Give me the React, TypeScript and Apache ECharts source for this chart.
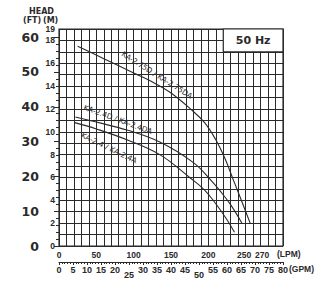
import React, { useEffect, useRef } from "react";
import * as echarts from "echarts";

const lpmLabels = [0, 50, 100, 150, 200, 250, 270];
const mLabels = [0, 2, 4, 6, 8, 10, 12, 14, 16, 18, 19];
const gpmLowLabels = [25, 50];

const ka275: [number, number][] = [
  [25, 17.5], [60, 16.4], [100, 15.15], [124, 14.4], [150, 13.4], [176, 12.0],
  [195, 10.8], [210, 9.3], [222, 7.7], [234, 5.7], [246, 3.7], [256, 2.0],
];
const ka24D: [number, number][] = [
  [22, 11.3], [50, 10.85], [91, 10.15], [135, 9.1], [180, 7.3], [203, 5.8],
  [216, 4.8], [230, 3.6], [245, 2.0],
];
const ka24: [number, number][] = [
  [21, 10.8], [50, 10.25], [91, 9.3], [135, 8.0], [175, 6.0], [195, 4.9],
  [210, 3.7], [225, 2.3], [235, 1.2],
];

const FONT = "DejaVu Sans";
const TICKFONT = "Liberation Sans";
const INK = "#2a2a2a";

export default function App() {
  const ref = useRef<HTMLDivElement>(null);
  useEffect(() => {
    document.body.style.margin = "0";
    const chart = echarts.init(ref.current!, null, { renderer: "svg" });
    const lineSeries = (name: string, data: [number, number][]) => ({
      name,
      type: "line",
      xAxisIndex: 0,
      yAxisIndex: 0,
      data,
      smooth: 0.4,
      showSymbol: false,
      symbol: "none",
      lineStyle: { color: INK, width: 1.1 },
      z: 3,
    });
    const tickRich = { fontSize: 8.5, fontFamily: TICKFONT, fontWeight: "bold", color: INK };
    chart.setOption({
      animation: false,
      backgroundColor: "#ffffff",
      textStyle: { fontFamily: FONT, color: INK },
      grid: [
        { left: 59, right: 39, top: 29, bottom: 58, show: true, borderColor: INK, borderWidth: 1.2, backgroundColor: "transparent" },
        { left: 59, right: 39, top: 37.14, bottom: 58, show: false },
      ],
      xAxis: [
        {
          gridIndex: 0, type: "value", min: 0, max: 300, interval: 10,
          axisLine: { show: false }, axisTick: { show: false },
          splitLine: { show: true, lineStyle: { color: INK, width: 1 } },
          axisLabel: {
            margin: 4, fontSize: 8.5, color: INK, fontFamily: TICKFONT, fontWeight: "bold",
            showMinLabel: true, showMaxLabel: false, hideOverlap: false,
            formatter: (v: number) => {
              if (!lpmLabels.includes(v)) return "";
              if (v === 250) return `{l|${v}}`;
              if (v === 270) return `{r|${v}}`;
              return String(v);
            },
            rich: {
              l: { ...tickRich, padding: [0, 3, 0, 0] },
              r: { ...tickRich, padding: [0, 0, 0, 3] },
            },
          },
        },
        {
          gridIndex: 0, type: "value", min: 0, max: 80, interval: 5, position: "bottom", offset: 16,
          axisLine: { show: true, lineStyle: { color: INK, width: 1 } },
          axisTick: { show: true, length: 3, inside: false, lineStyle: { color: INK } },
          minorTick: { show: true, splitNumber: 5, length: 2, lineStyle: { color: INK } },
          splitLine: { show: false },
          axisLabel: {
            margin: 3, fontSize: 9, color: INK, fontFamily: TICKFONT, fontWeight: "bold",
            showMinLabel: true, showMaxLabel: true,
            formatter: (v: number) => (gpmLowLabels.includes(v) ? `{low|${v}}` : String(v)),
            rich: { low: { fontSize: 9, fontFamily: TICKFONT, fontWeight: "bold", color: INK, padding: [5, 0, 0, 0] } },
          },
        },
        { gridIndex: 1, type: "value", min: 0, max: 300, show: false },
      ],
      yAxis: [
        {
          gridIndex: 0, type: "value", min: 0, max: 19, interval: 1,
          axisLine: { show: false }, axisTick: { show: false },
          splitLine: { show: true, lineStyle: { color: INK, width: 1 } },
          axisLabel: {
            margin: 4, fontSize: 8.5, color: INK, fontFamily: TICKFONT, fontWeight: "bold",
            showMinLabel: true, showMaxLabel: true,
            formatter: (v: number) => (mLabels.includes(v) ? String(v) : ""),
          },
        },
        {
          gridIndex: 1, type: "value", min: 0, max: 60, interval: 10, position: "left", offset: 17,
          axisLine: { show: true, lineStyle: { color: INK, width: 1 } },
          axisTick: { show: true, length: 5, lineStyle: { color: INK } },
          minorTick: { show: true, splitNumber: 5, length: 3, lineStyle: { color: INK } },
          splitLine: { show: false },
          axisLabel: { margin: 3, fontSize: 12.5, fontWeight: "bold", color: INK, fontFamily: FONT },
        },
      ],
      series: [
        {
          ...lineSeries("KA-2.75D / KA-2.75DA", ka275),
          markArea: {
            silent: true,
            itemStyle: { color: "#ffffff", borderColor: INK, borderWidth: 1.2 },
            label: { show: true, position: "inside", fontSize: 11, fontWeight: "bold", color: INK, fontFamily: FONT },
            data: [[{ name: "50 Hz", coord: [220, 19] }, { coord: [300, 17] }]],
          },
        },
        lineSeries("KA-2.4D / KA-2.4DA", ka24D),
        lineSeries("KA-2.4 / KA-2.4A", ka24),
      ],
      graphic: [
        { type: "text", left: 29, top: 7, style: { text: "HEAD", fontSize: 8, fontWeight: "bold", fill: INK, fontFamily: FONT } },
        { type: "text", left: 23, top: 16, style: { text: "(FT)", fontSize: 8, fontWeight: "bold", fill: INK, fontFamily: FONT } },
        { type: "text", left: 43, top: 16, style: { text: "(M)", fontSize: 8, fontWeight: "bold", fill: INK, fontFamily: FONT } },
        { type: "text", left: 277, top: 249, style: { text: "(LPM)", fontSize: 8.5, fontWeight: "bold", fill: INK, fontFamily: TICKFONT } },
        { type: "text", left: 289, top: 264, style: { text: "(GPM)", fontSize: 8.5, fontWeight: "bold", fill: INK, fontFamily: TICKFONT } },
        {
          type: "text", x: 157, y: 75, rotation: -0.56,
          style: { text: "KA-2.75D / KA-2.75DA", fontSize: 7.5, fill: INK, fontFamily: FONT, align: "center", verticalAlign: "middle" },
        },
        {
          type: "text", x: 118, y: 119.5, rotation: -0.35,
          style: { text: "KA-2.4D / KA-2.4DA", fontSize: 7.5, fill: INK, fontFamily: FONT, align: "center", verticalAlign: "middle" },
        },
        {
          type: "text", x: 109, y: 148, rotation: -0.45,
          style: { text: "KA-2.4 / KA-2.4A", fontSize: 7.5, fill: INK, fontFamily: FONT, align: "center", verticalAlign: "middle" },
        },
      ],
    });
    return () => chart.dispose();
  }, []);
  return <div ref={ref} style={{ width: 322, height: 304 }} />;
}
